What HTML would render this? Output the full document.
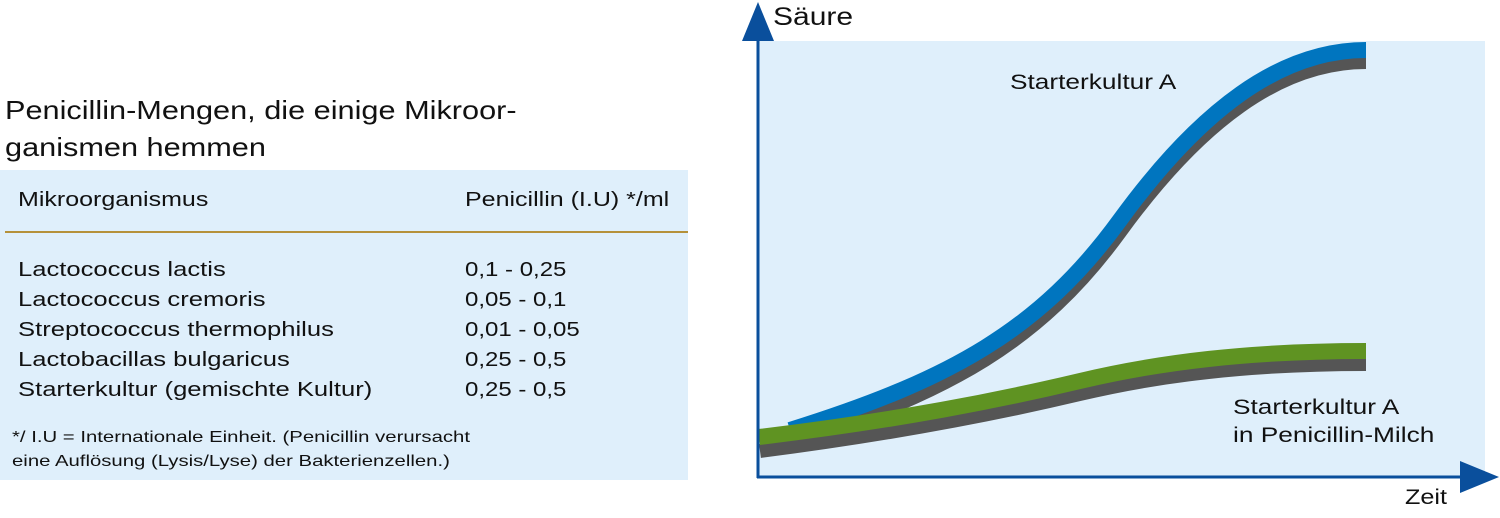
<!DOCTYPE html>
<html><head><meta charset="utf-8"><style>
body{margin:0;width:1500px;height:518px;background:#fff;font-family:"Liberation Sans",sans-serif;position:relative;overflow:hidden;color:#111}
.t{position:absolute;white-space:nowrap;transform-origin:0 0}
</style></head><body>
<div class="t" style="left:5px;top:92px;font-size:26px;line-height:37px;transform:scaleX(1.18)">Penicillin-Mengen, die einige Mikroor-<br>ganismen hemmen</div>
<div style="position:absolute;left:0;top:170px;width:688px;height:310px;background:#dfeffb"></div>
<div style="position:absolute;left:5px;top:231px;width:683px;height:2px;background:#b5913a"></div>
<div class="t" style="left:18px;top:189px;font-size:20px;transform:scaleX(1.25)">Mikroorganismus</div>
<div class="t" style="left:465px;top:189px;font-size:20px;transform:scaleX(1.25)">Penicillin (I.U) */ml</div>
<div class="t" style="left:18px;top:255px;font-size:20px;line-height:30px;transform:scaleX(1.28)">Lactococcus lactis<br>Lactococcus cremoris<br>Streptococcus thermophilus<br>Lactobacillas bulgaricus<br>Starterkultur (gemischte Kultur)</div>
<div class="t" style="left:465px;top:255px;font-size:20px;line-height:30px;transform:scaleX(1.2)">0,1 - 0,25<br>0,05 - 0,1<br>0,01 - 0,05<br>0,25 - 0,5<br>0,25 - 0,5</div>
<div class="t" style="left:12px;top:426px;font-size:16px;line-height:24px;transform:scaleX(1.27)">*/ I.U = Internationale Einheit. (Penicillin verursacht<br>eine Auflösung (Lysis/Lyse) der Bakterienzellen.)</div>
<svg style="position:absolute;left:0;top:0" width="1500" height="518">
<rect x="758" y="41" width="727" height="436" fill="#dfeffb"/>
<path d="M790 444 C950 392,1040 342,1120 232 S1280 62 1366 62" fill="none" stroke="#555" stroke-width="14"/>
<path d="M790 430 C950 380,1040 330,1120 220 S1280 50 1366 50" fill="none" stroke="#0075bf" stroke-width="16"/>
<path d="M760 451 C900 433,1000 413,1080 394 S1250 364 1366 364" fill="none" stroke="#555" stroke-width="14"/>
<path d="M759 437 C900 420,1000 400,1080 381 S1250 351 1366 351" fill="none" stroke="#5f9322" stroke-width="16"/>
<line x1="758" y1="30" x2="758" y2="478" stroke="#0a4f9c" stroke-width="3"/>
<line x1="757" y1="477" x2="1475" y2="477" stroke="#0a4f9c" stroke-width="3"/>
<polygon points="758,2 742,41 774,41" fill="#0a4f9c"/>
<polygon points="1499,477 1460,461 1460,493" fill="#0a4f9c"/>
</svg>
<div class="t" style="left:773px;top:3px;font-size:25px;transform:scaleX(1.2)">Säure</div>
<div class="t" style="left:1010px;top:71px;font-size:21px;transform:scaleX(1.25)">Starterkultur A</div>
<div class="t" style="left:1233px;top:394px;font-size:21px;line-height:28px;transform:scaleX(1.25)">Starterkultur A<br>in Penicillin-Milch</div>
<div class="t" style="left:1405px;top:486px;font-size:21px;transform:scaleX(1.2)">Zeit</div>
</body></html>
